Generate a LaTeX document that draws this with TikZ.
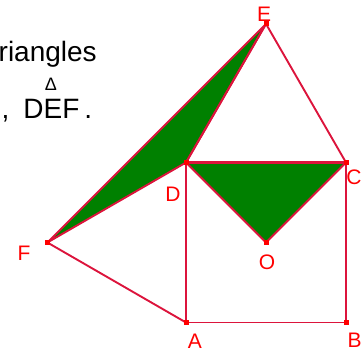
\documentclass[tikz,border=0pt]{standalone}
\usepackage{fontspec}
\setmainfont{Liberation Sans}
\usetikzlibrary{positioning}

\definecolor{edgered}{RGB}{220,20,60}
\definecolor{labelred}{RGB}{255,0,0}
\definecolor{areagreen}{RGB}{0,128,0}

\begin{document}
\begin{tikzpicture}[x=1pt, y=-1pt,
        edge/.style={draw=edgered, line width=1.9pt, line join=round},
        area/.style={edge, fill=areagreen},
        lbl/.style={text=labelred, inner sep=0pt, font=\fontsize{21}{21}\selectfont},
        txt/.style={inner sep=0pt, font=\fontsize{28}{28}\selectfont, anchor=base west}
    ]
    \useasboundingbox (0,0) rectangle (364,354);

    % points of the figure
    \coordinate (D) at (186,162.5);
    \coordinate (C) at (346,162.5);
    \coordinate (A) at (186,322.5);
    \coordinate (B) at (346,322.5);
    \coordinate (O) at (266,242.5);
    \coordinate (E) at (266,23.9);
    \coordinate (F) at (47.4,242.5);

    % the two shaded triangles
    \draw[area] (F) -- (E) -- (D) -- cycle;
    \draw[area] (D) -- (C) -- (O) -- cycle;

    % square and equilateral triangles
    \draw[edge] (D) -- (A) -- (B) -- (C);
    \draw[edge] (D) -- (E) -- (C);
    \draw[edge] (F) -- (A);
    \draw[edge, line width=2.6pt] (D) -- (C);

    \foreach \p in {A,B,C,D,E,F,O}
        \fill[labelred] (\p) +(-2.5,-2.5) rectangle +(2.5,2.5);

    % labels
    \node[lbl] (lE) at (264,14) {E};
    \node[lbl] (lC) at (354,177) {C};
    \node[lbl] (lD) at (173,194) {D};
    \node[lbl] (lF) at (24,253) {F};
    \node[lbl] (lO) at (267,262) {O};
    \node[lbl] (lA) at (195,341) {A};
    \node[lbl] (lB) at (354.5,340) {B};

    % question text
    \node[txt] (line1) at (-1.5,61) {riangles};
    \node[txt] (line2) at (1.5,118) {,\hspace{14pt}DEF\hspace{5pt}.};
    \node[inner sep=0pt, font=\fontsize{18}{18}\selectfont] (tri) at (51,84) {Δ};
\end{tikzpicture}
\end{document}
